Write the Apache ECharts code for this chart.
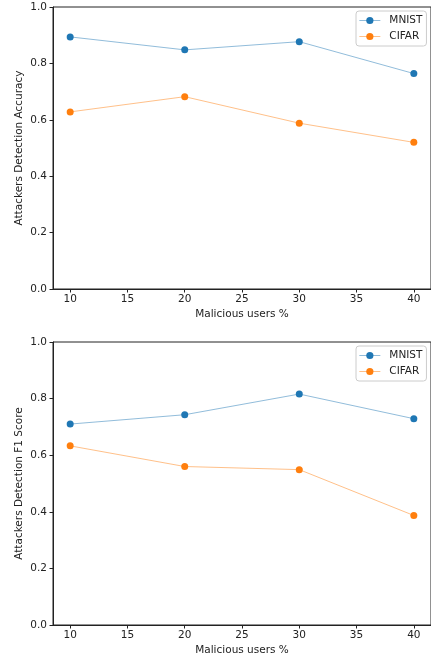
<!DOCTYPE html>
<html><head><meta charset="utf-8">
<script src="https://cdn.jsdelivr.net/npm/echarts@6/dist/echarts.min.js"></script>
<style>html,body{margin:0;padding:0;background:#fff}#c{width:431px;height:660px}</style>
</head><body><div id="c"></div>
<script>
const xValues = [10, 20, 30, 40];
const xTicks = [10, 15, 20, 25, 30, 35, 40];
const yTicks = [0, 0.2, 0.4, 0.6, 0.8, 1.0];
const accMNIST = [0.894, 0.848, 0.877, 0.764];
const accCIFAR = [0.628, 0.682, 0.588, 0.520];
const f1MNIST = [0.710, 0.743, 0.816, 0.729];
const f1CIFAR = [0.633, 0.560, 0.549, 0.387];
const seriesNames = ['MNIST', 'CIFAR'];
const colors = ['#1f77b4', '#ff7f0e'];
const xLabel = 'Malicious users %';
const yLabels = ['Attackers Detection Accuracy', 'Attackers Detection F1 Score'];

const font = 'DejaVu Sans';
const fs = 10.5;
const txt = '#222';
const grids = [
  {left: 53, top: 7, right: 0, height: 282},
  {left: 53, top: 342, right: 0, height: 283}
];
function pairs(vals){ return xValues.map((x,i)=>[x, vals[i]]); }
const option = {
  animation: false,
  textStyle: {fontFamily: font},
  grid: grids.map(g => Object.assign({show: true, borderColor: '#222', borderWidth: 1, backgroundColor: 'transparent'}, g)),
  legend: [0,1].map(i => ({
    data: seriesNames,
    orient: 'vertical',
    left: 356, top: grids[i].top + 4,
    itemWidth: 21, itemHeight: 9, itemGap: 3,
    padding: [3, 4, 3, 3],
    borderColor: '#ccc', borderWidth: 1, borderRadius: 3,
    backgroundColor: 'rgba(255,255,255,0.8)',
    lineStyle: {width: 0.7},
    textStyle: {fontFamily: font, fontSize: fs, color: txt, lineHeight: 13, padding: [0,0,0,4]}
  })),
  xAxis: [0,1].map(i => ({
    type: 'value', gridIndex: i, min: 8.5, max: 41.5,
    name: xLabel, nameLocation: 'middle', nameGap: 20, nameMoveOverlap: false,
    nameTextStyle: {fontFamily: font, fontSize: fs, color: txt},
    axisLine: {lineStyle: {color: '#222', width: 1}},
    axisTick: {show: true, length: 3.5, lineStyle: {color: '#222'}, customValues: xTicks},
    axisLabel: {fontFamily: font, fontSize: fs, color: txt, margin: 5, customValues: xTicks},
    splitLine: {show: false}
  })),
  yAxis: [0,1].map(i => ({
    type: 'value', gridIndex: i, min: 0, max: 1, interval: 0.2,
    name: yLabels[i], nameLocation: 'middle', nameGap: 28, nameMoveOverlap: false,
    nameTextStyle: {fontFamily: font, fontSize: fs, color: txt},
    axisLine: {show: true, lineStyle: {color: '#222', width: 1}},
    axisTick: {show: true, length: 3.5, lineStyle: {color: '#222'}},
    axisLabel: {fontFamily: font, fontSize: fs, color: txt, margin: 6, formatter: v => v.toFixed(1)},
    splitLine: {show: false}
  })),
  series: []
};
const data = [[accMNIST, accCIFAR], [f1MNIST, f1CIFAR]];
[0,1].forEach(g => {
  data[g].forEach((vals, k) => {
    option.series.push({
      type: 'line', name: seriesNames[k], xAxisIndex: g, yAxisIndex: g,
      data: pairs(vals), symbol: 'circle', symbolSize: 7,
      itemStyle: {color: colors[k]},
      lineStyle: {color: colors[k], width: 0.7, opacity: 0.7}
    });
  });
});
const chart = echarts.init(document.getElementById('c'), null, {renderer: 'canvas'});
chart.setOption(option);
</script></body></html>
